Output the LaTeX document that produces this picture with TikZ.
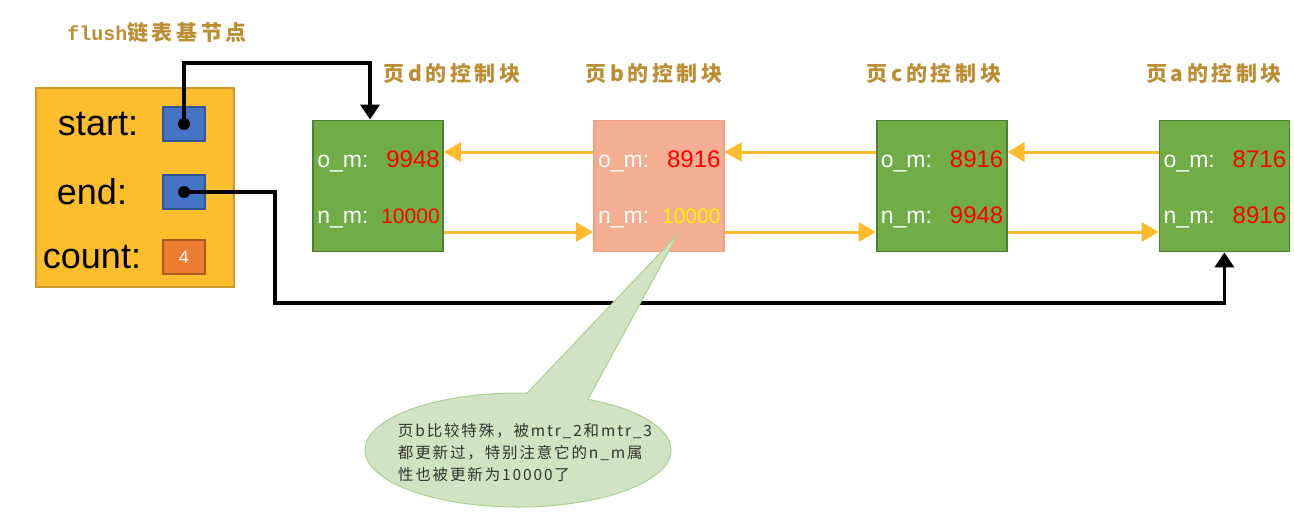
\documentclass[tikz,border=0pt]{standalone}
\usepackage{fontspec}
\setmainfont{Liberation Sans}
\setmonofont{Liberation Mono}
\newfontfamily\cjk{Noto Sans CJK SC}
\newfontfamily\cjkt[LetterSpace=17]{Noto Sans CJK SC}
\newfontfamily\cjkn[LetterSpace=12]{Noto Sans CJK SC}
\usetikzlibrary{arrows.meta, positioning, shapes.geometric}
\definecolor{basegold}{HTML}{FCBE2D}
\definecolor{baseline}{HTML}{C99A2C}
\definecolor{ptrblue}{HTML}{4472C4}
\definecolor{ptrline}{HTML}{2F5597}
\definecolor{cntorange}{HTML}{ED7D31}
\definecolor{cntline}{HTML}{AE5A21}
\definecolor{pagegreen}{HTML}{70AD47}
\definecolor{pageline}{HTML}{507E32}
\definecolor{pagesalmon}{HTML}{F4AE92}
\definecolor{salmonline}{HTML}{F4A07E}
\definecolor{linkyellow}{HTML}{FDBB2B}
\definecolor{titlegold}{HTML}{BC8D33}
\definecolor{notegreen}{HTML}{D0E4C3}
\definecolor{noteline}{HTML}{A9CF90}
\definecolor{notetext}{HTML}{333333}

\begin{document}
\begin{tikzpicture}[x=1pt, y=-1pt,
    pagebox/.style={draw=pageline, fill=pagegreen, line width=1.8pt, minimum width=130pt, minimum height=131pt, inner sep=0pt},
    fieldname/.style={text=white, font=\fontsize{23}{27}\selectfont, inner sep=0pt},
    fieldval/.style={text=red, font=\fontsize{24}{28}\selectfont, inner sep=0pt},
    pagetitle/.style={text=titlegold, font=\cjkt\bfseries\fontsize{21}{25}\selectfont},
    basetext/.style={font=\fontsize{36}{40}\selectfont, inner sep=0pt},
    ptrbox/.style={draw=ptrline, fill=ptrblue, line width=1.5pt, minimum width=42pt, minimum height=34pt, inner sep=0pt},
    link/.style={draw=linkyellow, line width=3pt, -{Triangle[length=17pt, width=19pt]}},
    ptr/.style={draw=black, line width=3.2pt, -{Triangle[length=15pt, width=19pt]}}]
        \useasboundingbox (0,0) rectangle (1294,522);

        \node (flushlbl) [pagetitle] at (157,33) {{\ttfamily\fontsize{20}{24}\selectfont flush}链表基节点};
        \node (base) [draw=baseline, fill=basegold, line width=2pt, minimum width=198pt, minimum height=199pt] at (135,187.5) {};
        \node (startlbl) [basetext] at (98,124) {start:};
        \node (endlbl) [basetext] at (92,192) {end:};
        \node (countlbl) [basetext] at (92,257) {count:};
        \node (startbox) [ptrbox] at (184,124) {};
        \node (endbox) [ptrbox] at (184,192) {};
        \node (countbox) [ptrbox, draw=cntline, fill=cntorange, text=white, font=\fontsize{18}{20}\selectfont] at (184,257) {4};
        \node (sdot) [circle, fill=black, minimum size=12pt, inner sep=0pt] at (startbox) {};
        \node (edot) [circle, fill=black, minimum size=12pt, inner sep=0pt] at (endbox) {};

        \node (pd) [pagebox] at (378,186) {};
        \node (pb) [pagebox, right=149pt of pd, fill=pagesalmon, draw=salmonline] {};
        \node (pc) [pagebox, right=151pt of pb] {};
        \node (pa) [pagebox, right=151pt of pc] {};

        \node (pdt) [pagetitle] at (452,73) {页d的控制块};
        \node (pbt) [pagetitle] at (654,73) {页b的控制块};
        \node (pct) [pagetitle] at (934,73) {页c的控制块};
        \node (pat) [pagetitle] at (1214,73) {页a的控制块};

        \node (pdo) [fieldname, anchor=base west] at ([shift={(5,-19)}]pd.west) {o\_m:};
        \node (pdov) [fieldval, anchor=base east] at ([shift={(-4,-19)}]pd.east) {9948};
        \node (pdn) [fieldname, anchor=base west] at ([shift={(5,37)}]pd.west) {n\_m:};
        \node (pdnv) [fieldval, anchor=base east, font=\fontsize{21}{25}\selectfont] at ([shift={(-4,37)}]pd.east) {10000};
        \node (pbo) [fieldname, anchor=base west] at ([shift={(5,-19)}]pb.west) {o\_m:};
        \node (pbov) [fieldval, anchor=base east] at ([shift={(-4,-19)}]pb.east) {8916};
        \node (pbn) [fieldname, anchor=base west] at ([shift={(5,37)}]pb.west) {n\_m:};
        \node (pbnv) [fieldval, anchor=base east, text=yellow, font=\fontsize{21}{25}\selectfont] at ([shift={(-4,37)}]pb.east) {10000};
        \node (pco) [fieldname, anchor=base west] at ([shift={(5,-19)}]pc.west) {o\_m:};
        \node (pcov) [fieldval, anchor=base east] at ([shift={(-4,-19)}]pc.east) {8916};
        \node (pcn) [fieldname, anchor=base west] at ([shift={(5,37)}]pc.west) {n\_m:};
        \node (pcnv) [fieldval, anchor=base east] at ([shift={(-4,37)}]pc.east) {9948};
        \node (pao) [fieldname, anchor=base west] at ([shift={(5,-19)}]pa.west) {o\_m:};
        \node (paov) [fieldval, anchor=base east] at ([shift={(-4,-19)}]pa.east) {8716};
        \node (pan) [fieldname, anchor=base west] at ([shift={(5,37)}]pa.west) {n\_m:};
        \node (panv) [fieldval, anchor=base east] at ([shift={(-4,37)}]pa.east) {8916};

        \draw [link] ([yshift=34pt]pb.west) -- ([yshift=34pt]pd.east);
        \draw [link] ([yshift=34pt]pc.west) -- ([yshift=34pt]pb.east);
        \draw [link] ([yshift=34pt]pa.west) -- ([yshift=34pt]pc.east);
        \draw [link] ([yshift=-46pt]pd.east) -- ([yshift=-46pt]pb.west);
        \draw [link] ([yshift=-46pt]pb.east) -- ([yshift=-46pt]pc.west);
        \draw [link] ([yshift=-46pt]pc.east) -- ([yshift=-46pt]pa.west);

        \draw [ptr] (sdot.center) -- ++(0,-61) -| ([xshift=-8pt]pd.north);
        \draw [ptr] (edot.center) -- ++(91,0) -- ++(0,111) -| (pa.south);

        \coordinate (ncen) at (518,450);
        \coordinate (tip) at ([shift={(19,-18)}]pb.south);
        \filldraw [draw=noteline, fill=notegreen, line width=1pt] (tip) -- ([shift={(62.8:153pt and 57pt)}]ncen) arc[start angle=62.8, end angle=-273.4, x radius=153pt, y radius=57pt] -- cycle;
        \node (note) [text=notetext, font=\cjkn\fontsize{15.5}{22}\selectfont, align=left] at (525,453) {页b比较特殊，被mtr\_2和mtr\_3\\都更新过，特别注意它的n\_m属\\性也被更新为10000了};
    \end{tikzpicture}
\end{document}
